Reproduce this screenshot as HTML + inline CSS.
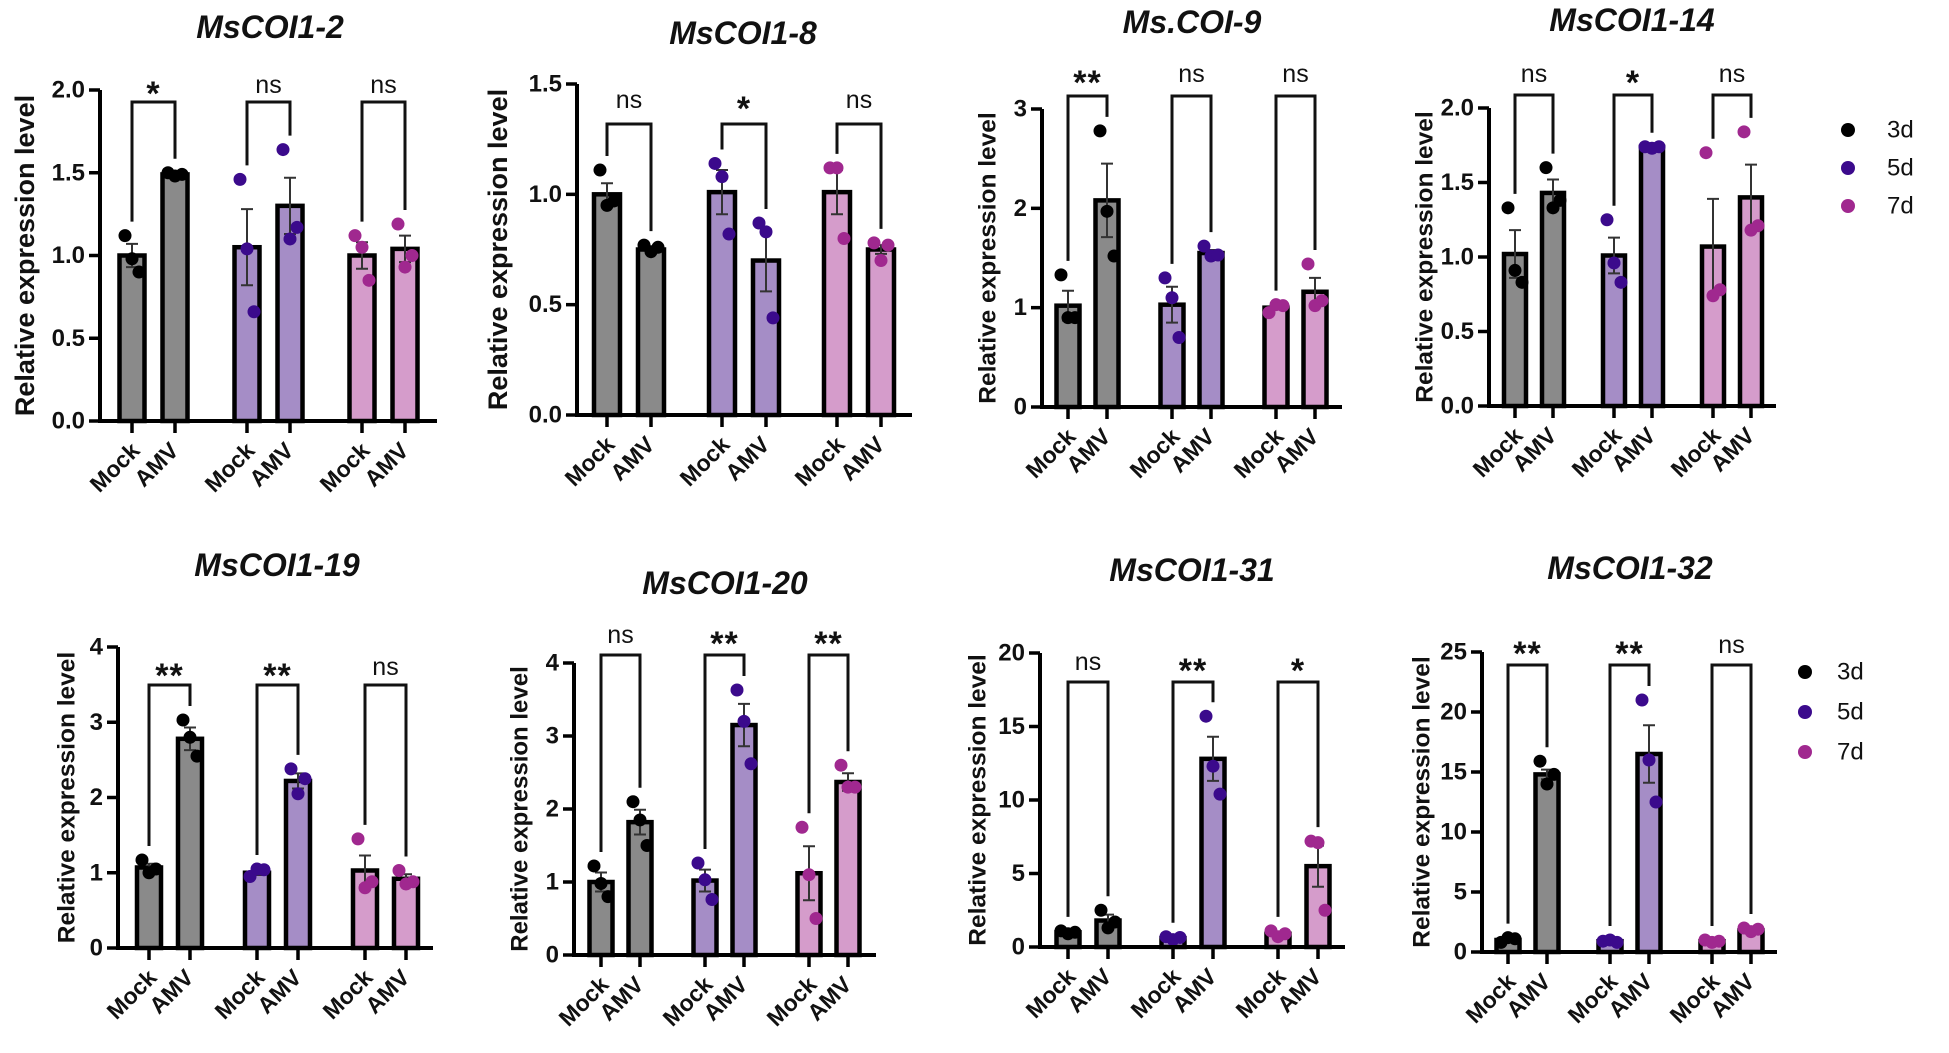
<!DOCTYPE html>
<html><head><meta charset="utf-8">
<style>
html,body{margin:0;padding:0;background:#fff;}
svg{display:block;font-family:"Liberation Sans",Arial,sans-serif;}
</style></head>
<body>
<svg id="fig" width="1949" height="1053" viewBox="0 0 1949 1053" xmlns="http://www.w3.org/2000/svg"></svg>
<script>
// ---- data ----
const titles = ["MsCOI1-2","MsCOI1-8","Ms.COI-9","MsCOI1-14","MsCOI1-19","MsCOI1-20","MsCOI1-31","MsCOI1-32"];
const categories = ["Mock","AMV","Mock","AMV","Mock","AMV"];
const groups = ["3d","5d","7d"];
const yTicks = [
 [0,0.5,1,1.5,2],[0,0.5,1,1.5],[0,1,2,3],[0,0.5,1,1.5,2],
 [0,1,2,3,4],[0,1,2,3,4],[0,5,10,15,20],[0,5,10,15,20,25]];
const tickLabels = [
 ["0.0","0.5","1.0","1.5","2.0"],["0.0","0.5","1.0","1.5"],["0","1","2","3"],["0.0","0.5","1.0","1.5","2.0"],
 ["0","1","2","3","4"],["0","1","2","3","4"],["0","5","10","15","20"],["0","5","10","15","20","25"]];
const means = [
 [1.0,1.49,1.05,1.3,1.0,1.04],
 [1.0,0.75,1.01,0.7,1.01,0.75],
 [1.02,2.08,1.03,1.55,1.0,1.16],
 [1.02,1.43,1.01,1.74,1.07,1.4],
 [1.07,2.78,1.0,2.22,1.03,0.92],
 [1.0,1.82,1.02,3.15,1.12,2.37],
 [1.0,1.8,0.6,12.8,0.9,5.5],
 [1.0,14.8,0.9,16.5,0.9,1.8]];
const sems = [
 [0.07,0.01,0.23,0.17,0.08,0.08],
 [0.05,0.01,0.1,0.14,0.1,0.02],
 [0.15,0.37,0.18,0.03,0.01,0.14],
 [0.16,0.09,0.12,0.0,0.32,0.22],
 [0.05,0.15,0.03,0.1,0.2,0.06],
 [0.13,0.17,0.15,0.29,0.37,0.12],
 [0.1,0.4,0.1,1.5,0.15,1.4],
 [0.15,0.4,0.1,2.4,0.1,0.1]];
const points = [
 [[1.12,0.98,0.9],[1.5,1.48,1.49],[1.46,1.04,0.66],[1.64,1.1,1.17],[1.12,1.05,0.85],[1.19,0.93,1.0]],
 [[1.11,0.95,0.97],[0.77,0.74,0.76],[1.14,1.08,0.82],[0.87,0.83,0.44],[1.12,1.12,0.8],[0.78,0.7,0.77]],
 [[1.33,0.9,0.9],[2.78,1.97,1.52],[1.3,1.1,0.7],[1.62,1.52,1.53],[0.95,1.03,1.02],[1.44,1.02,1.07]],
 [[1.33,0.91,0.83],[1.6,1.33,1.38],[1.25,0.96,0.83],[1.74,1.73,1.74],[1.7,0.74,0.78],[1.84,1.18,1.21]],
 [[1.17,1.0,1.05],[3.03,2.8,2.55],[0.95,1.05,1.04],[2.38,2.05,2.25],[1.45,0.8,0.88],[1.03,0.85,0.88]],
 [[1.22,0.98,0.8],[2.1,1.85,1.5],[1.26,1.03,0.76],[3.63,3.2,2.62],[1.75,1.1,0.5],[2.6,2.3,2.3]],
 [[1.1,0.9,1.0],[2.5,1.3,1.7],[0.7,0.5,0.65],[15.7,12.3,10.4],[1.1,0.7,0.9],[7.2,7.1,2.5]],
 [[0.8,1.2,1.1],[15.9,14.0,14.8],[0.9,1.0,0.8],[21.0,16.0,12.5],[1.0,0.8,0.9],[2.0,1.7,1.9]]];
const signif = [
 ["*","ns","ns"],["ns","*","ns"],["**","ns","ns"],["ns","*","ns"],
 ["**","**","ns"],["ns","**","**"],["ns","**","*"],["**","**","ns"]];

// ---- layout (pixels, not data) ----
const layout = [
 {ax:100,y0:421,yt:90,xe:437,b0:132,pair:43,gap:115,brY:102,sigY:85,tx:270,ty:27,ylx:25,yfs:27},
 {ax:577,y0:415,yt:84,xe:912,b0:607,pair:44,gap:115,brY:124,sigY:100,tx:743,ty:33,ylx:498,yfs:27},
 {ax:1042,y0:407,yt:109,xe:1342,b0:1068,pair:39,gap:104,brY:96,sigY:74,tx:1192,ty:22,ylx:988,yfs:24.5},
 {ax:1489,y0:406,yt:108,xe:1776,b0:1515,pair:38,gap:99,brY:95,sigY:74,tx:1632,ty:20,ylx:1425,yfs:24.5},
 {ax:118,y0:948,yt:647,xe:433,b0:149,pair:41,gap:108,brY:685,sigY:667,tx:277,ty:565,ylx:67,yfs:24.5},
 {ax:574,y0:955,yt:663,xe:876,b0:601,pair:39,gap:104,brY:655,sigY:635,tx:725,ty:583,ylx:520,yfs:24},
 {ax:1040,y0:947,yt:653,xe:1345,b0:1068,pair:40,gap:105,brY:682,sigY:662,tx:1192,ty:570,ylx:978,yfs:24.5},
 {ax:1482,y0:952,yt:652,xe:1777,b0:1508,pair:39,gap:102,brY:665,sigY:645,tx:1630,ty:568,ylx:1422,yfs:24.5}];
const legendPos = [{x:1848,y:130,dy:38,tx:1887},{x:1805,y:672,dy:40,tx:1837}];
const barFill = ["#8a8a8a","#a58dc6","#d59ccb"];
const dotFill = ["#000000","#3b0a8c","#a0288f"];

const NS = "http://www.w3.org/2000/svg";
const svg = document.getElementById("fig");
function mk(tag, attrs, parent){
  const e = document.createElementNS(NS, tag);
  for (const k in attrs) e.setAttribute(k, attrs[k]);
  (parent||svg).appendChild(e);
  return e;
}

titles.forEach((title, p) => {
  const L = layout[p];
  const ticks = yTicks[p];
  const ymax = ticks[ticks.length-1];
  const yS = v => L.y0 - (v/ymax)*(L.y0 - L.yt);
  const xS = i => L.b0 + Math.floor(i/2)*L.gap + (i%2)*L.pair;
  const bw = Math.round(L.pair*0.58);

  const g = mk("g", {});
  
  

  const t = mk("text", {x:L.tx, y:L.ty, "text-anchor":"middle", "dominant-baseline":"central", "font-size":32, "font-weight":"bold", "font-style":"italic", fill:"#111"}, g);
  t.textContent = title;
  
  

  const yl = mk("text", {x:0, y:0, transform:`translate(${L.ylx},${(L.y0+L.yt)/2}) rotate(-90)`, "text-anchor":"middle", "dominant-baseline":"central", "font-size":L.yfs, "font-weight":"bold", fill:"#111"}, g);
  yl.textContent = "Relative expression level";
  
  

  means[p].forEach((m, i) => {
    const grp = Math.floor(i/2);
    const x = xS(i);
    const r = mk("rect", {x:x-bw/2, y:yS(m), width:bw, height:L.y0-yS(m), fill:barFill[grp], stroke:"#000", "stroke-width":4.5}, g);
    
    
  });
  means[p].forEach((m, i) => {
    const x = xS(i), s = sems[p][i];
    const eb = mk("path", {d:`M${x},${yS(m-s)}V${yS(m+s)}M${x-6},${yS(m+s)}H${x+6}M${x-6},${yS(m-s)}H${x+6}`, stroke:"#333", "stroke-width":2, fill:"none"}, g);
    
    
  });
  points[p].forEach((pts, i) => {
    const grp = Math.floor(i/2);
    const x = xS(i);
    pts.forEach((v, k) => {
      const c = mk("circle", {cx:x + (k-1)*7, cy:yS(v), r:6.5, fill:dotFill[grp]}, g);
      
      
    });
  });
  const axis = mk("path", {d:`M${L.ax},${L.yt}V${L.y0}H${L.xe}`, stroke:"#000", "stroke-width":4, fill:"none"}, g);
  
  
  ticks.forEach((v, k) => {
    const tk = mk("line", {x1:L.ax-11, x2:L.ax, y1:yS(v), y2:yS(v), stroke:"#000", "stroke-width":3.5}, g);
    
    
    const tl = mk("text", {x:L.ax-15, y:yS(v), "text-anchor":"end", "dominant-baseline":"central", "font-size":24, "font-weight":"bold", fill:"#111"}, g);
    tl.textContent = tickLabels[p][k];
    
    
  });
  categories.forEach((c, i) => {
    const x = xS(i);
    const tk = mk("line", {x1:x, x2:x, y1:L.y0, y2:L.y0+12, stroke:"#000", "stroke-width":3.5}, g);
    
    
    const tx = x + (i%2===0 ? 9 : 5), ty = L.y0 + 31;
    const lab = mk("text", {x:0, y:0, transform:`translate(${tx},${ty}) rotate(-45)`, "text-anchor":"end", "font-size":23, "font-weight":"bold", fill:"#111"}, g);
    lab.textContent = c;
    
    
  });
  for (let grp = 0; grp < 3; grp++) {
    const i1 = grp*2, i2 = grp*2+1;
    const top = idx => Math.min(...points[p][idx].map(yS), yS(means[p][idx]+sems[p][idx]));
    const x1 = xS(i1), x2 = xS(i2);
    const l1 = Math.max(L.brY+10, top(i1)-14), l2 = Math.max(L.brY+10, top(i2)-14);
    const br = mk("path", {d:`M${x1},${l1}V${L.brY}H${x2}V${l2}`, stroke:"#111", "stroke-width":3, fill:"none"}, g);
    
    
    const s = signif[p][grp];
    const st = mk("text", {x:(x1+x2)/2, y:L.sigY + (s==="ns"?0:9), "text-anchor":"middle", "dominant-baseline":"central", "font-size":(s==="ns"?25:34), "font-weight":(s==="ns"?"normal":"bold"), fill:"#111", "letter-spacing":(s==="ns"?0:1)}, g);
    st.textContent = s;
    
    
  }
});

legendPos.forEach((lp, n) => {
  const lg = mk("g", {});
  
  
  groups.forEach((gname, k) => {
    const c = mk("circle", {cx:lp.x, cy:lp.y + k*lp.dy, r:7, fill:dotFill[k]}, lg);
    
    
    const t = mk("text", {x:lp.tx, y:lp.y + k*lp.dy, "dominant-baseline":"central", "font-size":24, fill:"#111"}, lg);
    t.textContent = gname;
    
    
  });
});
</script>
</body></html>
